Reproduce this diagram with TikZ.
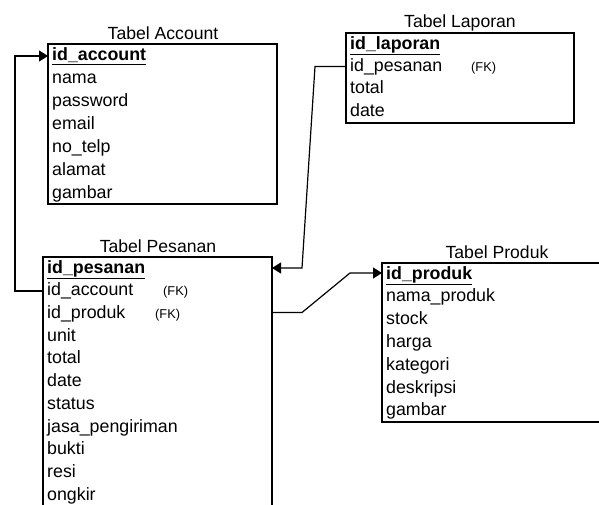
\documentclass[tikz,border=0pt]{standalone}
\usepackage{fontspec}
\setmainfont{Liberation Sans}
\usetikzlibrary{arrows.meta}
\tikzset{
  tbl/.style={draw=black, line width=1.3pt},
  ttl/.style={font=\fontsize{17.6}{20}\selectfont, inner sep=0pt, anchor=mid, yshift=-2.5pt},
  fld/.style={font=\fontsize{17.8}{20}\selectfont, inner sep=0pt, anchor=mid west, yshift=-2.5pt},
  pk/.style={fld, font=\fontsize{17.8}{20}\selectfont\bfseries},
  fk/.style={font=\fontsize{12.8}{15}\selectfont, inner sep=0pt, anchor=mid west, yshift=-2pt},
  link/.style={draw=black, line width=1.2pt},
  tip/.style={-{Triangle[length=9pt,width=11pt]}}
}
\newcommand{\pkul}[1]{\underline{#1}}
\begin{document}
\begin{tikzpicture}[x=1pt, y=-1pt]
\useasboundingbox (0,0) rectangle (599,505);
\clip (0,0) rectangle (599,505);
\fill[white] (0,0) rectangle (599,505);

% ---------- Tabel Account ----------
\node[ttl] (tA) at (163,34) {Tabel Account};
\draw[tbl] (48,44) rectangle (277,204);
\node[pk]  (a1) at (52,55.5)  {\pkul{id\_account}};
\node[fld] (a2) at (52,78.4)  {nama};
\node[fld] (a3) at (52,101.3) {password};
\node[fld] (a4) at (52,124.2) {email};
\node[fld] (a5) at (52,147.1) {no\_telp};
\node[fld] (a6) at (52,170)   {alamat};
\node[fld] (a7) at (52,192.9) {gambar};
\coordinate (accIn) at (48,56);

% ---------- Tabel Laporan ----------
\node[ttl] (tL) at (460,22) {Tabel Laporan};
\draw[tbl] (346,33) rectangle (574,123);
\node[pk]  (l1) at (350,44)  {\pkul{id\_laporan}};
\node[fld] (l2) at (350,66.5){id\_pesanan};
\node[fk]  (l2fk) at (471,66.5) {(FK)};
\node[fld] (l3) at (350,88.8){total};
\node[fld] (l4) at (350,111.2){date};
\coordinate (lapOut) at (346,66.5);

% ---------- Tabel Pesanan ----------
\node[ttl] (tP) at (158,247) {Tabel Pesanan};
\draw[tbl] (43,257) rectangle (272,540);
\node[pk]  (p1)  at (47,268)   {\pkul{id\_pesanan}};
\node[fld] (p2)  at (47,290.7) {id\_account};
\node[fk]  (p2fk) at (163,290.7) {(FK)};
\node[fld] (p3)  at (47,313.4) {id\_produk};
\node[fk]  (p3fk) at (155,313.4) {(FK)};
\node[fld] (p4)  at (47,336.1) {unit};
\node[fld] (p5)  at (47,358.8) {total};
\node[fld] (p6)  at (47,381.5) {date};
\node[fld] (p7)  at (47,404.2) {status};
\node[fld] (p8)  at (47,426.9) {jasa\_pengiriman};
\node[fld] (p9)  at (47,449.6) {bukti};
\node[fld] (p10) at (47,472.3) {resi};
\node[fld] (p11) at (47,495)   {ongkir};
\coordinate (pesAccOut) at (43,291);
\coordinate (pesIn)     at (272,268);
\coordinate (pesProdOut) at (272,312.5);

% ---------- Tabel Produk ----------
\node[ttl] (tR) at (497,253) {Tabel Produk};
\draw[tbl] (382,263) rectangle (640,422);
\node[pk]  (r1) at (386,274)   {\pkul{id\_produk}};
\node[fld] (r2) at (386,296.8) {nama\_produk};
\node[fld] (r3) at (386,319.6) {stock};
\node[fld] (r4) at (386,342.4) {harga};
\node[fld] (r5) at (386,365.2) {kategori};
\node[fld] (r6) at (386,388)   {deskripsi};
\node[fld] (r7) at (386,410.8) {gambar};
\coordinate (prodIn) at (382,273);

% ---------- Relations ----------
\draw[link, tip] (pesAccOut) -- (15,291) -- (15,56) -- (accIn);
\draw[link, tip] (lapOut) -- (315,66.5) -- (302,268) -- (pesIn);
\draw[link, tip] (pesProdOut) -- (302,312.5) -- (350,273) -- (prodIn);
\end{tikzpicture}
\end{document}
